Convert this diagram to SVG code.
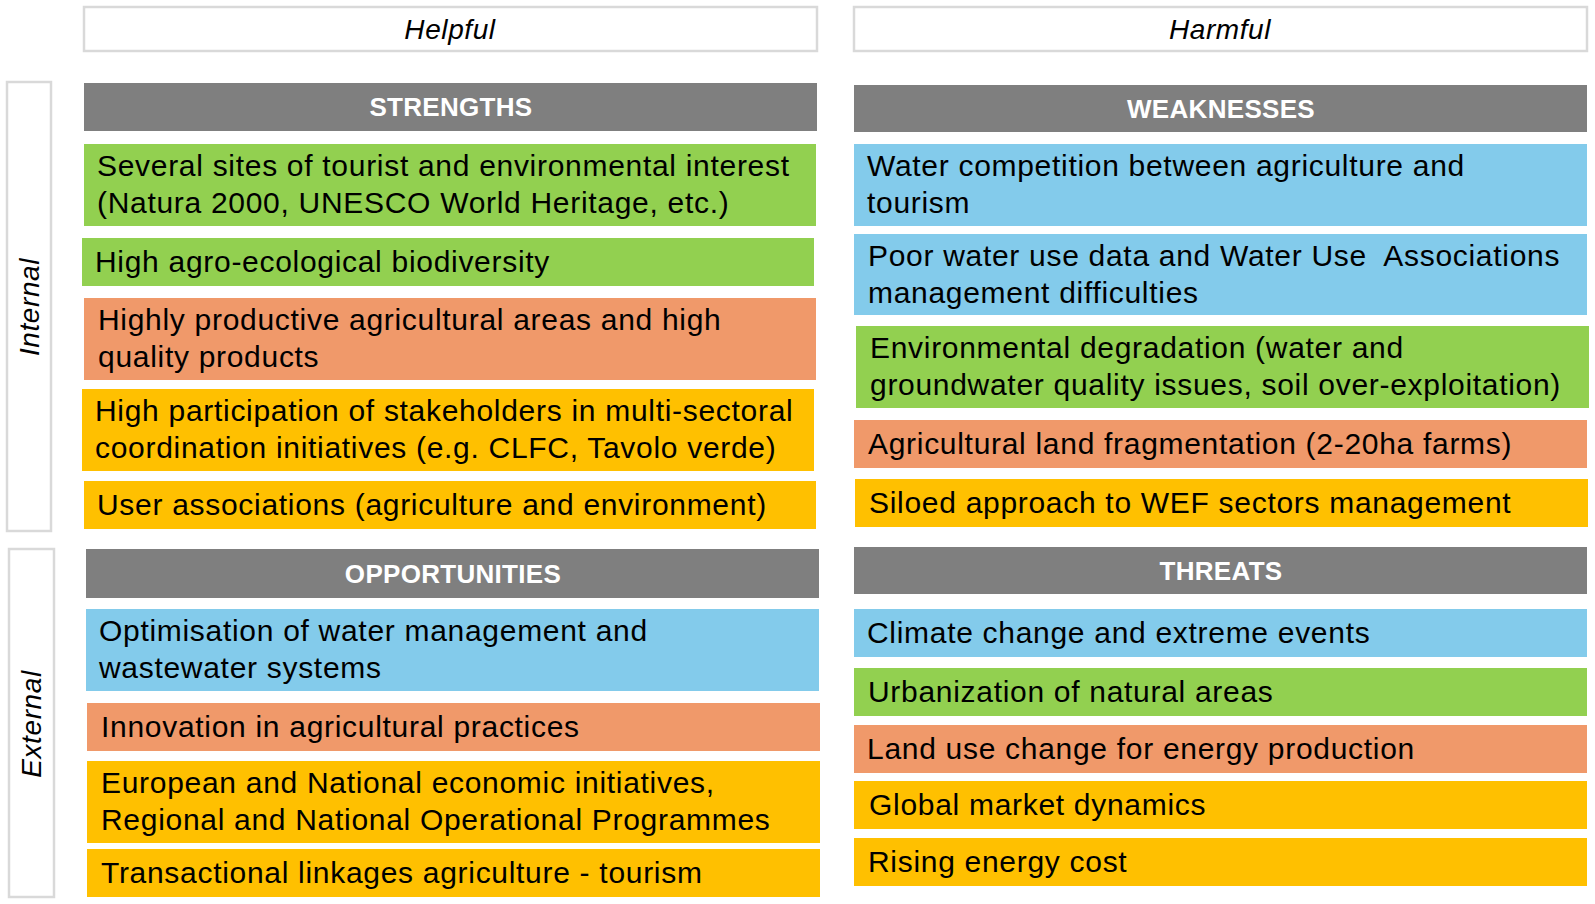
<svg xmlns="http://www.w3.org/2000/svg" width="1595" height="904" viewBox="0 0 1595 904">
<style>
text{font-family:"Liberation Sans",Arial,sans-serif;}
.t{font-size:30px;letter-spacing:0.7px;fill:#000;}
.h{font-size:26px;font-weight:bold;letter-spacing:0.3px;fill:#fff;text-anchor:middle;}
.lab{font-size:28px;font-style:italic;letter-spacing:0.6px;fill:#000;text-anchor:middle;}
.frame{fill:#fff;stroke:#d9d9d9;stroke-width:2.5;}
.gray{fill:#7f7f7f;}
.green{fill:#92d050;}
.orange{fill:#f0996a;}
.blue{fill:#83cbeb;}
.yellow{fill:#ffc000;}
</style>
<rect width="1595" height="904" fill="#fff"/>
<g id="helpful"><rect class="frame" x="84" y="7" width="733" height="44"/><text class="lab" x="450" y="39">Helpful</text></g>
<g id="harmful"><rect class="frame" x="854" y="7" width="733" height="44"/><text class="lab" x="1220" y="39">Harmful</text></g>
<g id="internal"><rect class="frame" x="7" y="82" width="44" height="449"/><text class="lab" transform="translate(39,307) rotate(-90)">Internal</text></g>
<g id="external"><rect class="frame" x="9" y="549" width="45" height="348"/><text class="lab" transform="translate(41,724) rotate(-90)">External</text></g>

<g id="strengths"><rect class="gray" x="84" y="83" width="733" height="48"/><text class="h" x="451" y="116">STRENGTHS</text></g>
<g id="s1"><rect class="green" x="84" y="144" width="732" height="82"/><text class="t" x="97" y="176">Several sites of tourist and environmental interest</text><text class="t" x="97" y="213">(Natura 2000, UNESCO World Heritage, etc.)</text></g>
<g id="s2"><rect class="green" x="82" y="238" width="732" height="48"/><text class="t" x="95" y="272">High agro-ecological biodiversity</text></g>
<g id="s3"><rect class="orange" x="84" y="298" width="732" height="82"/><text class="t" x="98" y="330">Highly productive agricultural areas and high</text><text class="t" x="98" y="367">quality products</text></g>
<g id="s4"><rect class="yellow" x="82" y="389" width="732" height="82"/><text class="t" x="95" y="421">High participation of stakeholders in multi-sectoral</text><text class="t" x="95" y="458">coordination initiatives (e.g. CLFC, Tavolo verde)</text></g>
<g id="s5"><rect class="yellow" x="84" y="481" width="732" height="48"/><text class="t" x="97" y="515">User associations (agriculture and environment)</text></g>

<g id="opportunities"><rect class="gray" x="86" y="549" width="733" height="49"/><text class="h" x="453" y="583">OPPORTUNITIES</text></g>
<g id="o1"><rect class="blue" x="86" y="609" width="733" height="82"/><text class="t" x="99" y="641">Optimisation of water management and</text><text class="t" x="99" y="678">wastewater systems</text></g>
<g id="o2"><rect class="orange" x="87" y="703" width="733" height="48"/><text class="t" x="101" y="737">Innovation in agricultural practices</text></g>
<g id="o3"><rect class="yellow" x="87" y="761" width="733" height="82"/><text class="t" x="101" y="793">European and National economic initiatives,</text><text class="t" x="101" y="830">Regional and National Operational Programmes</text></g>
<g id="o4"><rect class="yellow" x="87" y="849" width="733" height="48"/><text class="t" x="101" y="883">Transactional linkages agriculture - tourism</text></g>

<g id="weaknesses"><rect class="gray" x="854" y="85" width="733" height="47"/><text class="h" x="1221" y="118">WEAKNESSES</text></g>
<g id="w1"><rect class="blue" x="854" y="144" width="733" height="82"/><text class="t" x="867" y="176">Water competition between agriculture and</text><text class="t" x="867" y="213">tourism</text></g>
<g id="w2"><rect class="blue" x="854" y="234" width="733" height="81"/><text class="t" x="868" y="266" xml:space="preserve">Poor water use data and Water Use  Associations</text><text class="t" x="868" y="303">management difficulties</text></g>
<g id="w3"><rect class="green" x="856" y="326" width="733" height="82"/><text class="t" x="870" y="358">Environmental degradation (water and</text><text class="t" x="870" y="395">groundwater quality issues, soil over-exploitation)</text></g>
<g id="w4"><rect class="orange" x="854" y="420" width="733" height="48"/><text class="t" x="868" y="454">Agricultural land fragmentation (2-20ha farms)</text></g>
<g id="w5"><rect class="yellow" x="855" y="479" width="733" height="48"/><text class="t" x="869" y="513">Siloed approach to WEF sectors management</text></g>

<g id="threats"><rect class="gray" x="854" y="547" width="733" height="47"/><text class="h" x="1221" y="580">THREATS</text></g>
<g id="t1"><rect class="blue" x="854" y="609" width="733" height="48"/><text class="t" x="867" y="643">Climate change and extreme events</text></g>
<g id="t2"><rect class="green" x="854" y="668" width="733" height="48"/><text class="t" x="868" y="702">Urbanization of natural areas</text></g>
<g id="t3"><rect class="orange" x="854" y="725" width="733" height="48"/><text class="t" x="867" y="759">Land use change for energy production</text></g>
<g id="t4"><rect class="yellow" x="854" y="781" width="733" height="48"/><text class="t" x="869" y="815">Global market dynamics</text></g>
<g id="t5"><rect class="yellow" x="854" y="838" width="733" height="48"/><text class="t" x="868" y="872">Rising energy cost</text></g>
<g id="connectors"/>
</svg>
